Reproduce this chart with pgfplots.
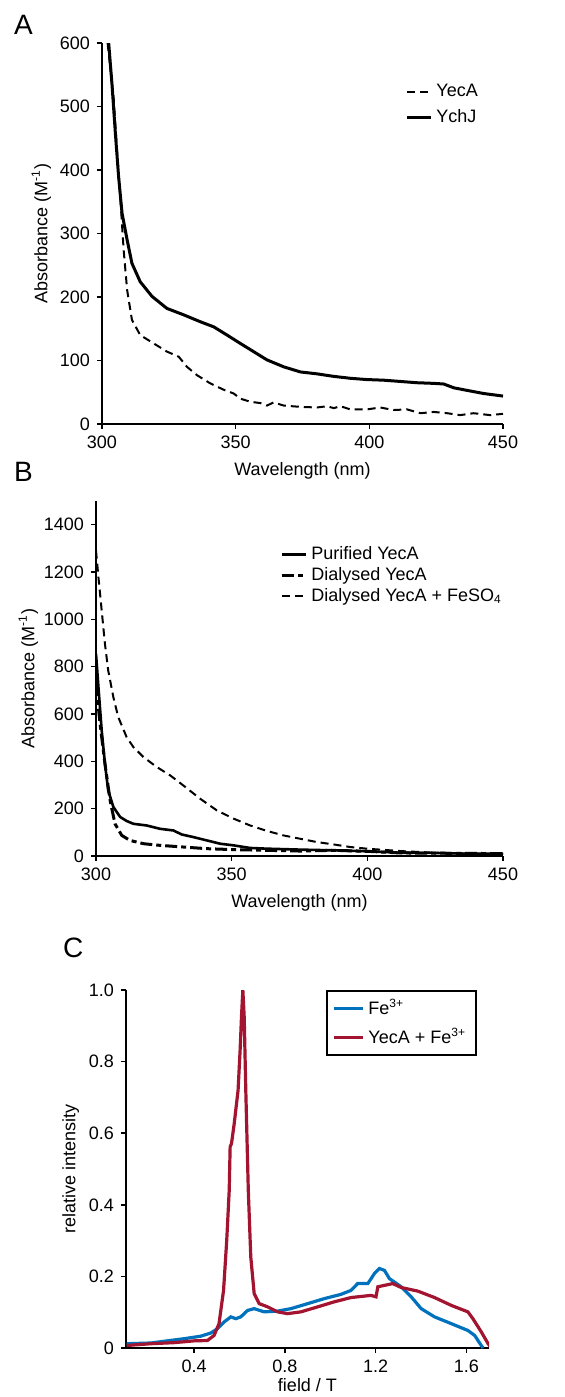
\documentclass[border=0pt]{standalone}
\usepackage{pgfplots}
\pgfplotsset{compat=1.18}
\usepackage{fontspec}
\setmainfont{Liberation Sans}

\definecolor{mblue}{RGB}{0,114,189}
\definecolor{mred}{RGB}{162,20,47}

\pgfplotsset{
  panel/.style={
    scale only axis,
    axis lines=left,
    axis line style={line width=1pt,-},
    every tick/.style={black,line width=0.8pt},
    tick align=outside,
    major tick length=2.5pt,
    tick label style={font=\fontsize{9}{10}\selectfont},
    label style={font=\fontsize{9}{10}\selectfont},
    /pgf/number format/assume math mode=true,
    /pgf/number format/set thousands separator={},
    legend style={font=\fontsize{9}{10}\selectfont, draw=none, fill=none,
      inner sep=0pt, row sep=1pt},
    legend cell align=left,
    legend image code/.code={\draw[##1] (0cm,0cm) -- (0.42cm,0cm);},
  },
}

\begin{document}
\begin{tikzpicture}
\useasboundingbox (0,0) rectangle (282pt,-698.5pt);

% ---------------- A ----------------
\node[font=\fontsize{14}{14}\selectfont, anchor=west] at (3.5pt,-12.5pt) {A};
\begin{axis}[panel,
  at={(51pt,-212pt)}, anchor=south west,
  width=200.5pt, height=190.5pt,
  xmin=300, xmax=450, ymin=0, ymax=600,
  xtick={300,350,400,450}, ytick={0,100,...,600},
  xlabel={Wavelength (nm)},
  ylabel={Absorbance (M\textsuperscript{-1})},
  ylabel style={yshift=-2.5pt},
  legend style={at={(0.756,0.903)}, anchor=north west},
]
\addplot[black, line width=1pt, dash pattern=on 4pt off 2.5pt] coordinates {
(302.1,600)(304.4,511)(305.6,432)(306.9,353)(308.1,274)(309.4,211)(311.2,164)
(314.3,140)(319.3,127)(324.3,114)(328.7,106)(331.8,90)(335.5,77)(340.5,64)
(345.5,54)(349.3,48)(351.7,40)(355.5,35)(359.2,33)(361.7,29)(364.2,34)(368.0,29)
(374.2,27)(380.4,26)(384.2,28)(386.7,25)(389.2,28)(392.9,23)(399.1,23)(404.1,26)
(409.1,22)(414.1,23)(419.1,17)(424.1,19)(429.1,17)(434.0,14)(439.0,17)(445.2,14)
(450,16)};
\addplot[black, line width=1.5pt] coordinates {
(302.5,600)(303.7,537)(305.0,458)(306.2,390)(307.5,332)(309.4,290)(311.2,253)
(314.3,224)(318.7,201)(324.3,182)(330.5,172)(336.8,161)(341.8,153)(346.8,140)
(351.7,127)(356.7,114)(361.7,101)(368.0,90)(374.2,82)(380.4,79)(386.7,75)
(392.9,72)(399.1,70)(405.4,69)(411.6,67)(417.8,65)(424.1,64)(427.8,63)(431.6,57)
(436.5,53)(442.8,48)(450,44)};
\legend{YecA, YchJ}
\end{axis}

% ---------------- B ----------------
\node[font=\fontsize{14}{14}\selectfont, anchor=west] at (3.5pt,-236pt) {B};
\begin{axis}[panel,
  at={(48pt,-428pt)}, anchor=south west,
  width=203.5pt, height=177.5pt,
  xmin=300, xmax=450, ymin=0, ymax=1500,
  xtick={300,350,400,450}, ytick={0,200,...,1400},
  xlabel={Wavelength (nm)},
  ylabel={Absorbance (M\textsuperscript{-1})},
  ylabel style={yshift=-4pt},
  legend style={at={(0.452,0.885)}, anchor=north west, row sep=-1.5pt},
]
\addplot[black, line width=1.3pt] coordinates {
(300,854)(300.9,713)(302.1,530)(303.3,390)(304.5,277)(306.4,207)(308.9,165)
(311.3,148)(313.8,136)(318.7,129)(323.6,115)(328.5,108)(331.6,91)(335.9,80)
(340.8,66)(345.7,52)(350.7,45)(356.8,34)(363.0,31)(375.2,27)(387.5,24)
(399.8,20)(412.1,14)(424.4,13)(436.7,10)(450,10)};
\addplot[black, line width=1.5pt, dash pattern=on 6pt off 2pt on 2.5pt off 2pt] coordinates {
(300,727)(301.5,559)(303.3,390)(305.2,235)(307.0,136)(309.5,87)(312.5,66)
(317.5,52)(323.6,45)(332.2,38)(340.8,31)(350.7,27)(363.0,24)(375.2,21)
(387.5,24)(399.8,20)(412,13)(450,10)};
\addplot[black, line width=1pt, dash pattern=on 4pt off 2.5pt] coordinates {
(300,1290)(300.9,1178)(302.1,1037)(303.3,896)(304.5,784)(306.4,671)(308.2,587)
(311.3,502)(313.8,460)(317.5,418)(322.4,376)(327.3,341)(332.2,298)(338.4,242)
(344.5,193)(350.7,158)(356.8,129)(363.0,106)(369.1,87)(375.2,73)(381.4,59)
(387.5,49)(393.7,38)(399.8,31)(412.1,21)(424.4,14)(436.7,10)(450,7)};
\legend{Purified YecA, Dialysed YecA, Dialysed YecA + FeSO\textsubscript{4}}
\end{axis}

% ---------------- C ----------------
\node[font=\fontsize{14}{14}\selectfont, anchor=west] at (28pt,-474pt) {C};
\begin{axis}[panel,
  at={(63pt,-674pt)}, anchor=south west,
  width=181.5pt, height=179pt,
  xmin=0.1, xmax=1.7, ymin=0, ymax=1,
  xtick={0.4,0.8,1.2,1.6}, ytick={0,0.2,...,1.0},
  yticklabels={0,0.2,0.4,0.6,0.8,1.0},
  xticklabel style={/pgf/number format/fixed, /pgf/number format/precision=1},
  xlabel={field / T},
  ylabel={relative intensity},
  xlabel style={yshift=4pt},
  ylabel style={yshift=-2pt},
  legend style={at={(0.551,1.0)}, anchor=north west, draw=black,
    line width=0.8pt, inner xsep=3pt, inner ysep=2pt},
  legend image code/.code={\draw[#1, line width=1.6pt] (0cm,0cm) -- (0.5cm,0cm);},
]
\addplot[mblue, line width=1.6pt] coordinates {
(0.103,0.012)(0.209,0.014)(0.282,0.020)(0.356,0.026)(0.429,0.033)(0.474,0.042)
(0.503,0.054)(0.533,0.073)(0.562,0.087)(0.584,0.082)(0.606,0.087)(0.636,0.105)
(0.665,0.110)(0.709,0.101)(0.768,0.103)(0.827,0.110)(0.901,0.124)(0.974,0.138)
(1.048,0.150)(1.092,0.161)(1.121,0.180)(1.166,0.180)(1.195,0.208)(1.217,0.222)
(1.239,0.217)(1.261,0.194)(1.313,0.171)(1.357,0.143)(1.401,0.110)(1.460,0.087)
(1.534,0.068)(1.607,0.049)(1.637,0.035)(1.666,0.007)(1.674,0)};
\addplot[mred, line width=1.6pt] coordinates {
(0.103,0.007)(0.209,0.012)(0.312,0.015)(0.4,0.020)(0.459,0.021)(0.488,0.035)
(0.510,0.068)(0.530,0.161)(0.544,0.301)(0.555,0.441)(0.559,0.562)(0.565,0.571)
(0.577,0.627)(0.594,0.720)(0.603,0.832)(0.609,0.925)(0.615,1.0)(0.621,0.925)
(0.628,0.720)(0.639,0.441)(0.650,0.254)(0.665,0.152)(0.687,0.124)(0.724,0.115)
(0.768,0.101)(0.812,0.096)(0.871,0.101)(0.945,0.115)(1.018,0.129)(1.092,0.141)
(1.180,0.147)(1.202,0.143)(1.210,0.171)(1.239,0.175)(1.276,0.180)(1.313,0.169)
(1.386,0.159)(1.460,0.141)(1.534,0.119)(1.607,0.101)(1.629,0.082)(1.666,0.045)
(1.696,0.012)(1.707,0.003)};
\legend{Fe\textsuperscript{3+}, YecA + Fe\textsuperscript{3+}}
\end{axis}
\end{tikzpicture}
\end{document}
